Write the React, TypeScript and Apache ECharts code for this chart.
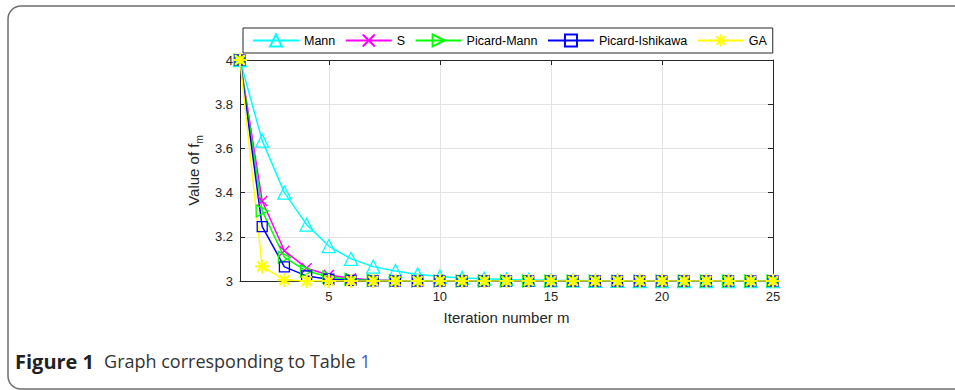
import React, { useEffect, useRef } from "react";
import * as echarts from "echarts";

const iterations = [1,2,3,4,5,6,7,8,9,10,11,12,13,14,15,16,17,18,19,20,21,22,23,24,25];
const seriesNames = ["Mann", "S", "Picard-Mann", "Picard-Ishikawa", "GA"];
const mannValues = [4, 3.635, 3.40, 3.255, 3.158, 3.10, 3.065, 3.045, 3.03, 3.02, 3.014, 3.01, 3.007, 3.005, 3.003, 3.002, 3.001, 3.001, 3.0, 3.0, 3.0, 3.0, 3.0, 3.0, 3.0];
const sValues = [4, 3.362, 3.137, 3.058, 3.027, 3.012, 3.005, 3.002, 3.001, 3.0, 3.0, 3.0, 3.0, 3.0, 3.0, 3.0, 3.0, 3.0, 3.0, 3.0, 3.0, 3.0, 3.0, 3.0, 3.0];
const picardMannValues = [4, 3.317, 3.107, 3.045, 3.018, 3.007, 3.003, 3.001, 3.0, 3.0, 3.0, 3.0, 3.0, 3.0, 3.0, 3.0, 3.0, 3.0, 3.0, 3.0, 3.0, 3.0, 3.0, 3.0, 3.0];
const picardIshikawaValues = [4, 3.246, 3.064, 3.023, 3.008, 3.003, 3.001, 3.0, 3.0, 3.0, 3.0, 3.0, 3.0, 3.0, 3.0, 3.0, 3.0, 3.0, 3.0, 3.0, 3.0, 3.0, 3.0, 3.0, 3.0];
const gaValues = [4, 3.066, 3.004, 3.0, 3.0, 3.0, 3.0, 3.0, 3.0, 3.0, 3.0, 3.0, 3.0, 3.0, 3.0, 3.0, 3.0, 3.0, 3.0, 3.0, 3.0, 3.0, 3.0, 3.0, 3.0];
const yTicks = [3, 3.2, 3.4, 3.6, 3.8, 4];

const FONT = "'Liberation Sans', Arial, Helvetica, sans-serif";
const CAP_FONT = "'Open Sans', 'Noto Sans', sans-serif";
const AXIS_COLOR = "#262626";

const xSymbol = "path://M0,0L10,10M10,0L0,10";
const rightTri = "path://M0,0L10,5L0,10Z";
const asterisk = "path://M5,0L5,10M0,5L10,5M1.5,1.5L8.5,8.5M8.5,1.5L1.5,8.5";

function mk(name: string, values: number[], color: string, symbol: string, size: number, bw: number) {
  return {
    name,
    type: "line",
    data: iterations.map((x, i) => [x, values[i]]),
    symbol,
    symbolSize: size,
    symbolKeepAspect: true,
    showAllSymbol: true,
    lineStyle: { color, width: 1.5 },
    itemStyle: { color: "none", borderColor: color, borderWidth: bw },
    emphasis: { disabled: true },
    z: 3,
  };
}

export default function App() {
  const ref = useRef<HTMLDivElement>(null);
  useEffect(() => {
    if (!ref.current) return;
    const chart = echarts.init(ref.current, null, { renderer: "svg" });
    const option: any = {
      animation: false,
      backgroundColor: "#ffffff",
      grid: { left: 240, right: 182, top: 60, bottom: 109 },
      legend: {
        data: seriesNames,
        left: 243,
        top: 28,
        itemWidth: 46,
        itemHeight: 15,
        itemGap: 9.5,
        padding: [4, 6, 4, 9],
        borderColor: AXIS_COLOR,
        borderWidth: 1,
        backgroundColor: "#ffffff",
        textStyle: { fontFamily: FONT, fontSize: 12.5, color: "#000" },
        itemStyle: { inherit: true },
      },
      xAxis: [
        {
          type: "value",
          min: 1,
          max: 25,
          splitNumber: 5,
          name: "Iteration number m",
          nameLocation: "middle",
          nameGap: 29,
          nameTextStyle: { fontFamily: FONT, fontSize: 15, color: AXIS_COLOR },
          axisLine: { show: true, onZero: false, lineStyle: { color: AXIS_COLOR, width: 1 } },
          axisTick: { show: true, inside: true, length: 5, lineStyle: { color: AXIS_COLOR } },
          axisLabel: { showMinLabel: false, fontFamily: FONT, fontSize: 13, color: AXIS_COLOR, margin: 9 },
          splitLine: { show: true, lineStyle: { color: "#e3e3e3", width: 1 } },
        },
        {
          type: "value",
          position: "top",
          min: 1,
          max: 25,
          splitNumber: 5,
          axisLine: { show: true, onZero: false, lineStyle: { color: AXIS_COLOR, width: 1 } },
          axisTick: { show: true, inside: true, length: 5, lineStyle: { color: AXIS_COLOR } },
          axisLabel: { show: false },
          splitLine: { show: false },
        },
      ],
      yAxis: [
        {
          type: "value",
          min: 3,
          max: 4,
          interval: 0.2,
          name: "{a|Value of f}{b|m}",
          nameLocation: "middle",
          nameGap: 34,
          nameRotate: 90,
          nameTextStyle: {
            rich: {
              a: { fontFamily: FONT, fontSize: 15, color: AXIS_COLOR, lineHeight: 22, verticalAlign: "middle" },
              b: { fontFamily: FONT, fontSize: 10, color: AXIS_COLOR, lineHeight: 10, verticalAlign: "bottom" },
            },
          },
          axisLine: { show: true, onZero: false, lineStyle: { color: AXIS_COLOR, width: 1 } },
          axisTick: { show: true, inside: true, length: 5, lineStyle: { color: AXIS_COLOR } },
          axisLabel: { fontFamily: FONT, fontSize: 13, color: AXIS_COLOR, margin: 7, formatter: (v: number) => (yTicks.indexOf(Math.round(v * 10) / 10) >= 0 ? String(Math.round(v * 10) / 10) : "") },
          splitLine: { show: true, lineStyle: { color: "#e3e3e3", width: 1 } },
        },
        {
          type: "value",
          position: "right",
          min: 3,
          max: 4,
          interval: 0.2,
          axisLine: { show: true, onZero: false, lineStyle: { color: AXIS_COLOR, width: 1 } },
          axisTick: { show: true, inside: true, length: 5, lineStyle: { color: AXIS_COLOR } },
          axisLabel: { show: false },
          splitLine: { show: false },
        },
      ],
      graphic: [
        {
          type: "rect",
          shape: { x: 8, y: 6, width: 1000, height: 383, r: 13 },
          style: { fill: "none", stroke: "#6e6e6e", lineWidth: 1.5 },
          silent: true,
          z: -10,
        },
        {
          type: "text",
          left: 15,
          top: 351,
          style: {
            text: "{f|Figure 1}   {g|Graph corresponding to Table }{l|1}",
            rich: {
              f: { fontFamily: CAP_FONT, fontWeight: "bold", fontSize: 20, fill: "#222" },
              g: { fontFamily: CAP_FONT, fontSize: 18, fill: "#333" },
              l: { fontFamily: CAP_FONT, fontSize: 18, fill: "#3e5cc4" },
            },
          },
        },
      ],
      series: [
        mk("Mann", mannValues, "#00ffff", "triangle", 13, 1.3),
        mk("S", sValues, "#ff00ff", xSymbol, 10, 1.5),
        mk("Picard-Mann", picardMannValues, "#00ff00", rightTri, 12, 1.3),
        mk("Picard-Ishikawa", picardIshikawaValues, "#0000ff", "rect", 10, 1.3),
        mk("GA", gaValues, "#ffff00", asterisk, 14, 2.2),
      ],
    };
    chart.setOption(option);
    return () => chart.dispose();
  }, []);
  return <div ref={ref} style={{ position: "fixed", left: 0, top: 0, width: 955, height: 390 }} />;
}
